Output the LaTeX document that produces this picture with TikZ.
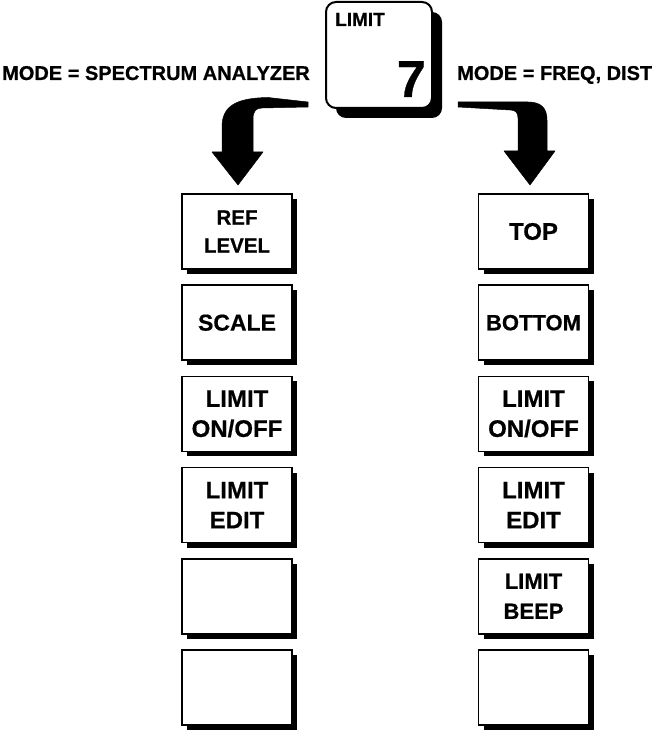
\documentclass[tikz,border=0pt]{standalone}
\usepackage{fontspec}
\setmainfont{Liberation Sans}[BoldFeatures={FakeBold=0.6}]
\usetikzlibrary{shadows}
\begin{document}
\begin{tikzpicture}[x=1pt,y=-1pt,
  every node/.style={font=\bfseries},
  softkey/.style={draw, line width=1.6pt, fill=white, minimum width=110pt, minimum height=75pt,
    inner sep=0pt, align=center,
    drop shadow={shadow xshift=5pt, shadow yshift=-5pt, fill=black, opacity=1},
    font=\bfseries\fontsize{23}{30}\selectfont},
  keycap/.style={draw, line width=2pt, fill=white, minimum width=106pt, minimum height=106pt,
    rounded corners=10pt, inner sep=0pt,
    drop shadow={shadow xshift=10pt, shadow yshift=-10pt, fill=black, opacity=1}},
  modelabel/.style={inner sep=0pt, font=\bfseries\fontsize{20}{24}\selectfont},
  bigarrow/.style={fill=black, draw=black, line width=0.5pt, line join=round}
]
\useasboundingbox (0,0) rectangle (651,730);

% hard key
\node[keycap] (key) at (379,55) {};
\node[anchor=base west, inner sep=0pt, font=\bfseries\fontsize{19}{22}\selectfont] (keylabel) at (335,26) {LIMIT};
\node[anchor=base east, inner sep=0pt, font=\bfseries\fontsize{52}{60}\selectfont] (keynum) at (426,97) {7};

% mode labels
\node[modelabel, anchor=base west] (modeL) at (2,80) {MODE = SPECTRUM ANALYZER};
\node[modelabel, anchor=base west] (modeR) at (457,80) {MODE = FREQ, DIST};

% arrows
\path[bigarrow] (308,102) -- (268,97.5) .. controls (236,98) and (222,106) .. (222,127)
  -- (222,152) -- (212,152) -- (238,185) -- (263,152) -- (253,152) -- (253,119)
  .. controls (253,111) and (256,108) .. (262,108) -- (308,107) -- cycle;
\path[bigarrow] (458,102) -- (528,102) .. controls (541,102) and (547,108) .. (547,120)
  -- (547,151) -- (555,151) -- (530,185) -- (504,151) -- (518,151) -- (518,118)
  .. controls (518,112) and (515,110) .. (510,110) -- (458,107) -- cycle;

% left column
\node[softkey, font=\bfseries\fontsize{20.5}{28}\selectfont] (L1) at (237,231.5) {REF\\LEVEL};
\node[softkey] (L2) at (237,322.7) {SCALE};
\node[softkey, font=\bfseries\fontsize{24}{30}\selectfont] (L3) at (237,413.9) {LIMIT\\ON/OFF};
\node[softkey, font=\bfseries\fontsize{24}{30}\selectfont] (L4) at (237,505.1) {LIMIT\\EDIT};
\node[softkey] (L5) at (237,596.3) {};
\node[softkey] (L6) at (237,687.5) {};

% right column
\node[softkey, font=\bfseries\fontsize{24}{30}\selectfont] (R1) at (533.5,231.5) {TOP};
\node[softkey, font=\bfseries\fontsize{22}{30}\selectfont] (R2) at (533.5,322.7) {BOTTOM};
\node[softkey, font=\bfseries\fontsize{24}{30}\selectfont] (R3) at (533.5,413.9) {LIMIT\\ON/OFF};
\node[softkey, font=\bfseries\fontsize{24}{30}\selectfont] (R4) at (533.5,505.1) {LIMIT\\EDIT};
\node[softkey, font=\bfseries\fontsize{22}{30}\selectfont] (R5) at (533.5,596.3) {LIMIT\\BEEP};
\node[softkey] (R6) at (533.5,687.5) {};
\end{tikzpicture}
\end{document}
